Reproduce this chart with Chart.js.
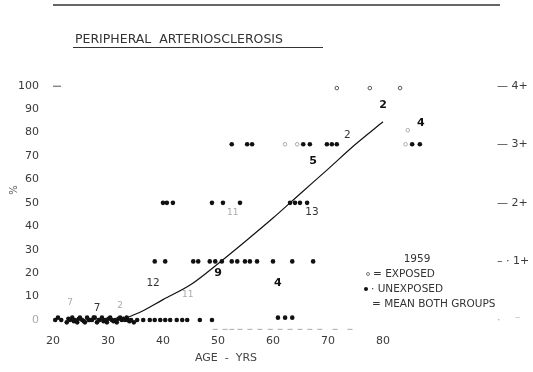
<!DOCTYPE html>
<html>
<head>
<meta charset="utf-8">
<script src="https://cdn.jsdelivr.net/npm/chart.js@4.4.1/dist/chart.umd.min.js"></script>
<style>
  html, body { margin: 0; padding: 0; background: #fff; }
</style>
</head>
<body>
<canvas id="myChart" width="533" height="372"></canvas>
<script>
// ages (years) and percent values
const unexposedAges = [
  20.4, 20.9, 21.5, 22.5, 22.8, 23.1, 23.5, 23.8, 24, 24.4, 24.7, 24.9, 25.3, 25.6, 25.8, 26.2, 26.5,
  26.7, 27.1, 27.4, 27.6, 28, 28.3, 28.5, 28.9, 29.2, 29.5, 29.8, 30.1, 30.4, 30.7, 31, 31.3, 31.6,
  31.9, 32.2, 32.5, 32.8, 33.1, 33.4, 33.6, 33.9, 34.2, 34.7, 35.3,
  36.4, 37.6, 38.5, 39.5, 40.4, 41.3, 42.5, 43.5, 44.4, 46.7, 48.9,
  60.9, 62.2, 63.5,
  38.5, 40.4, 45.5, 46.4, 48.5, 49.5, 50.7, 52.5, 53.5, 54.9, 55.8, 57.1, 60, 63.5, 67.3,
  40, 40.7, 41.8, 48.9, 50.9, 54, 63.1, 64, 64.9, 66.2,
  52.5, 55.3, 56.2, 65.5, 66.7, 69.8, 70.7, 71.6, 85.3, 86.7
];
const unexposedValues = [
  0, 1, 0, -1, 0.5, 0, 1, -0.5, 0, -1, 0.5, 1, 0, -0.5, -1, 1, 0, 0, 0, 1, 1, -1, 0, 0, 1, -0.5,
  0, -1, 0.5, 1, 0, -0.5, 0, -1, 0.5, 1, 0, 0.5, 0, 1, 0, -0.5, 0, -1, 0,
  0, 0, 0, 0, 0, 0, 0, 0, 0, 0, 0,
  1, 1, 1,
  25, 25, 25, 25, 25, 25, 25, 25, 25, 25, 25, 25, 25, 25, 25,
  50, 50, 50, 50, 50, 50, 50, 50, 50, 50,
  75, 75, 75, 75, 75, 75, 75, 75, 75, 75
];

const exposedAges = [71.6, 77.6, 83.1, 62.2, 64.4, 84.1, 84.5,
  49.5, 51.3, 52.5, 54, 55.8, 57.6, 59.5, 61.3, 63.1, 64.9, 66.7, 68.5, 71.3, 74];
const exposedValues = [99, 99, 99, 75, 75, 75, 81,
  -4, -4, -4, -4, -4, -4, -4, -4, -4, -4, -4, -4, -4, -4];

const meanAges = [33, 36, 40, 45, 50, 55, 60, 65, 70, 75, 80];
const meanValues = [0.5, 3.5, 8.7, 15, 24, 33.6, 43.5, 54, 64.4, 75, 84.6];

// number of cases printed next to the mean curve
const boldCountAges = [50, 60.9, 67.3, 80, 86.9];
const boldCountValues = [20, 15.8, 68, 91.5, 84];
const boldCountText = ["9", "4", "5", "2", "4"];
const countAges = [28, 38.2, 67.1, 73.5];
const countValues = [5.1, 15.8, 46, 79];
const countText = ["7", "12", "13", "2"];
const faintCountAges = [23.1, 32.2, 44.5, 52.7];
const faintCountValues = [7.3, 6, 10.7, 46];
const faintCountText = ["7", "2", "11", "11"];

const xTicks = [20, 30, 40, 50, 60, 70, 80];
const yTicks = [0, 10, 20, 30, 40, 50, 60, 70, 80, 90, 100];
const gradeTicks = [0, 25, 50, 75, 100];
const gradeLabels = ["·    ⁻", "– · 1+", "— 2+", "— 3+", "— 4+"];

const FONT = "'DejaVu Sans', sans-serif";
const INK = "#333";

function pts(xs, ys) {
  return xs.map((x, i) => ({ x: x, y: ys[i] }));
}

const decor = {
  id: "decor",
  afterDatasetsDraw(chart) {
    const { ctx, scales } = chart;
    const x = scales.x, y = scales.y;
    ctx.save();

    // rule at the top of the page
    ctx.strokeStyle = "#333";
    ctx.lineWidth = 1.6;
    ctx.beginPath();
    ctx.moveTo(53, 5);
    ctx.lineTo(500, 5);
    ctx.stroke();

    // title + underline
    ctx.fillStyle = INK;
    ctx.font = "12.5px " + FONT;
    ctx.textBaseline = "alphabetic";
    ctx.textAlign = "left";
    ctx.fillText("PERIPHERAL  ARTERIOSCLEROSIS", 75, 43);
    ctx.lineWidth = 1;
    ctx.beginPath();
    ctx.moveTo(73, 47.5);
    ctx.lineTo(323, 47.5);
    ctx.stroke();

    // "%" turned on its side
    ctx.save();
    ctx.translate(14, 190);
    ctx.rotate(-Math.PI / 2);
    ctx.font = "10px " + FONT;
    ctx.textAlign = "center";
    ctx.textBaseline = "middle";
    ctx.fillStyle = "#555";
    ctx.fillText("%", 0, 0);
    ctx.restore();

    // dash beside the 100 mark
    ctx.strokeStyle = "#555";
    ctx.beginPath();
    ctx.moveTo(53, y.getPixelForValue(100) + 0.5);
    ctx.lineTo(61, y.getPixelForValue(100) + 0.5);
    ctx.stroke();

    // x axis title
    ctx.font = "11px " + FONT;
    ctx.fillStyle = "#444";
    ctx.textAlign = "center";
    ctx.textBaseline = "middle";
    ctx.fillText("AGE  -  YRS", 226, 358);

    // case counts along the curve
    const label = (ages, vals, texts) => texts.forEach((t, i) => {
      ctx.fillText(t, x.getPixelForValue(ages[i]), y.getPixelForValue(vals[i]));
    });
    ctx.font = "bold 11px " + FONT;
    ctx.fillStyle = "#111";
    label(boldCountAges, boldCountValues, boldCountText);
    ctx.font = "10.5px " + FONT;
    ctx.fillStyle = "#333";
    label(countAges, countValues, countText);
    ctx.font = "9px " + FONT;
    ctx.fillStyle = "#aaa";
    label(faintCountAges, faintCountValues, faintCountText);

    // key
    ctx.font = "10.5px " + FONT;
    ctx.fillStyle = "#333";
    ctx.textAlign = "center";
    ctx.fillText("1959", 417, 259);
    ctx.textAlign = "left";
    ctx.fillText("= EXPOSED", 373, 274);
    ctx.fillText("· UNEXPOSED", 371, 289);
    ctx.fillText("= MEAN BOTH GROUPS", 372, 304);
    ctx.strokeStyle = "#777";
    ctx.beginPath();
    ctx.arc(368, 274, 1.5, 0, Math.PI * 2);
    ctx.stroke();
    ctx.fillStyle = "#111";
    ctx.beginPath();
    ctx.arc(366, 289, 2, 0, Math.PI * 2);
    ctx.fill();

    ctx.restore();
  }
};

new Chart(document.getElementById("myChart"), {
  type: "scatter",
  data: {
    datasets: [
      {
        label: "Mean both groups",
        type: "line",
        data: pts(meanAges, meanValues),
        borderColor: "#111",
        borderWidth: 1.2,
        pointRadius: 0,
        cubicInterpolationMode: "monotone",
        fill: false,
        clip: false,
      },
      {
        label: "Unexposed",
        data: pts(unexposedAges, unexposedValues),
        pointRadius: 2.3,
        pointBorderWidth: 0,
        backgroundColor: "#111",
        clip: false,
      },
      {
        label: "Exposed",
        data: pts(exposedAges, exposedValues),
        pointStyle: (c) => (c.raw && c.raw.y < 0 ? "line" : "circle"),
        pointRadius: (c) => (c.raw && c.raw.y < 0 ? 2.5 : 1.8),
        borderColor: (c) => (c.raw && c.raw.y >= 99 ? "#555" : "#aaa"),
        borderWidth: 1,
        backgroundColor: "#fff",
        clip: false,
      },
    ],
  },
  options: {
    responsive: false,
    animation: false,
    layout: { padding: { top: 74, left: 0, right: 0, bottom: 0 } },
    plugins: {
      legend: { display: false },
      title: { display: false },
      tooltip: { enabled: false },
    },
    scales: {
      x: {
        type: "linear",
        min: 18,
        max: 98,
        afterBuildTicks: (s) => { s.ticks = xTicks.map((v) => ({ value: v })); },
        afterFit: (s) => { s.height = 40.3; },
        grid: { display: false, drawTicks: false },
        border: { display: false },
        ticks: { padding: 3, color: "#3a3a3a", font: { family: FONT, size: 11 }, maxRotation: 0, autoSkip: false },
      },
      y: {
        min: -5,
        max: 105,
        afterBuildTicks: (s) => { s.ticks = yTicks.map((v) => ({ value: v })); },
        afterFit: (s) => { s.width = 42; },
        grid: { display: false, drawTicks: false },
        border: { display: false },
        ticks: {
          padding: 3,
          color: (c) => (c.tick && c.tick.value === 0 ? "#aaa" : "#3a3a3a"),
          font: { family: FONT, size: 11 },
          autoSkip: false,
        },
      },
      y2: {
        position: "right",
        min: -5,
        max: 105,
        afterBuildTicks: (s) => { s.ticks = gradeTicks.map((v) => ({ value: v })); },
        afterFit: (s) => { s.width = 51; },
        grid: { display: false, drawTicks: false },
        border: { display: false },
        ticks: {
          padding: 15,
          color: (c) => (c.tick && c.tick.value === 0 ? "#aaa" : "#3a3a3a"),
          font: { family: FONT, size: 11 },
          autoSkip: false,
          callback: (v, i) => gradeLabels[i],
        },
      },
    },
  },
  plugins: [decor],
});
</script>
</body>
</html>
